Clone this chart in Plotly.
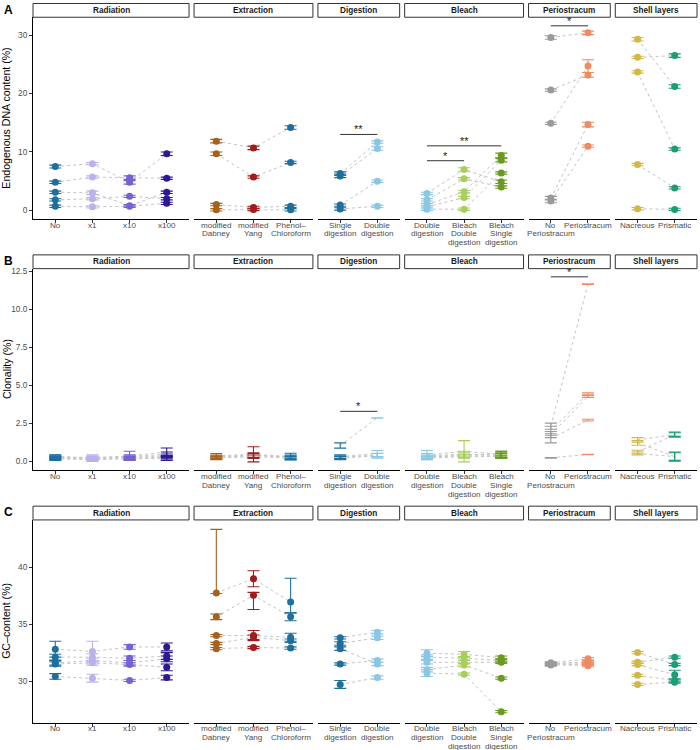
import plotly.graph_objects as go

W, H = 700, 750

# facet names and categories
facet_names = ["Radiation", "Extraction", "Digestion", "Bleach", "Periostracum", "Shell layers"]

radiation_cats = ["No", "x1", "x10", "x100"]
extraction_cats = ["modified Dabney", "modified Yang", "Phenol-Chloroform"]
digestion_cats = ["Single digestion", "Double digestion"]
bleach_cats = ["Double digestion", "Bleach Double digestion", "Bleach Single digestion"]
periostracum_cats = ["No Periostracum", "Periostracum"]
shell_cats = ["Nacreous", "Prismatic"]

radiation_labels = ["No", "x1", "x10", "x100"]
extraction_labels = ["modified<br>Dabney", "modified<br>Yang", "Phenol–<br>Chloroform"]
digestion_labels = ["Single<br>digestion", "Double<br>digestion"]
bleach_labels = ["Double<br>digestion", "Bleach<br>Double<br>digestion", "Bleach<br>Single<br>digestion"]
periostracum_labels = ["No<br>Periostracum", "Periostracum"]
shell_labels = ["Nacreous", "Prismatic"]

radiation_colors = ["#1f6f9e", "#b9b2ec", "#7563d3", "#2b1a92"]
extraction_colors = ["#a6611a", "#a11c1c", "#1f6f9e"]
digestion_colors = ["#1f6f9e", "#8ac6e6"]
bleach_colors = ["#8ac6e6", "#a8ce5c", "#6a9a1f"]
periostracum_colors = ["#9a9a9a", "#ef8a62"]
shell_colors = ["#d2b845", "#1b9e77"]

# A: endogenous DNA content (%), one row per shell, one value per category
endo_rad = [[7.5, 8.0, 4.8, 9.7], [4.8, 5.7, 5.6, 5.5], [3.1, 3.0, 0.8, 3.1], [1.8, 2.0, 2.4, 2.0], [0.7, 0.6, 0.7, 1.2]]
endo_rad_se = [[0.25, 0.2, 0.3, 0.3], [0.2, 0.2, 0.3, 0.2], [0.2, 0.3, 0.2, 0.2], [0.2, 0.2, 0.2, 0.2], [0.2, 0.2, 0.2, 0.2]]
endo_ext = [[11.85, 10.7, 14.2], [9.7, 5.7, 8.2], [1.0, 0.5, 0.7], [0.1, 0.15, 0.1]]
endo_ext_se = [[0.3, 0.3, 0.3], [0.3, 0.2, 0.2], [0.2, 0.2, 0.2], [0.2, 0.2, 0.2]]
endo_dig = [[6.3, 11.7], [5.9, 10.6], [0.9, 5.0], [0.25, 0.7]]
endo_dig_se = [[0.3, 0.2], [0.3, 0.3], [0.2, 0.2], [0.2, 0.2]]
endo_ble = [[2.9, 7.0, 4.9], [1.8, 5.4, 4.0], [1.0, 3.2, 9.4], [0.6, 2.2, 8.6], [0.2, 0.2, 6.4]]
endo_ble_se = [[0.2, 0.3, 0.3], [0.2, 0.2, 0.2], [0.2, 0.2, 0.4], [0.2, 0.2, 0.3], [0.2, 0.2, 0.2]]
endo_per = [[29.6, 30.4], [20.6, 23.2], [14.9, 24.7], [2.1, 14.7], [1.6, 11.0]]
endo_per_se = [[0.3, 0.3], [0.2, 0.4], [0.2, 1.1], [0.3, 0.4], [0.3, 0.2]]
endo_she = [[29.3, 21.2], [26.2, 26.5], [23.7, 10.5], [7.85, 3.85], [0.28, 0.17]]
endo_she_se = [[0.3, 0.3], [0.2, 0.3], [0.2, 0.2], [0.2, 0.2], [0.2, 0.2]]
endo_sig = [("Digestion", 0, 1, 13.0, "**"), ("Bleach", 0, 2, 11.05, "**"),
            ("Bleach", 0, 1, 8.5, "*"), ("Periostracum", 0, 1, 31.6, "*")]

# B: clonality (%)
clon_rad = [[0.3, 0.2, 0.35, 0.6], [0.25, 0.25, 0.3, 0.45], [0.2, 0.15, 0.25, 0.35], [0.15, 0.1, 0.15, 0.2], [0.3, 0.2, 0.2, 0.25]]
clon_rad_se = [[0.12, 0.22, 0.3, 0.27], [0.1, 0.1, 0.12, 0.15], [0.1, 0.1, 0.1, 0.12], [0.1, 0.08, 0.1, 0.15], [0.1, 0.1, 0.1, 0.1]]
clon_ext = [[0.35, 0.45, 0.3], [0.3, 0.4, 0.25], [0.2, 0.3, 0.2], [0.25, 0.35, 0.3]]
clon_ext_se = [[0.15, 0.5, 0.22], [0.1, 0.15, 0.1], [0.1, 0.1, 0.1], [0.1, 0.15, 0.1]]
clon_dig = [[1.03, 2.84], [0.3, 0.5], [0.2, 0.35], [0.25, 0.4]]
clon_dig_se = [[0.17, 0.02], [0.12, 0.2], [0.1, 0.15], [0.1, 0.12]]
clon_ble = [[0.4, 0.65, 0.45], [0.35, 0.45, 0.4], [0.3, 0.35, 0.35], [0.2, 0.3, 0.3], [0.25, 0.4, 0.5]]
clon_ble_se = [[0.3, 0.7, 0.2], [0.15, 0.2, 0.15], [0.1, 0.1, 0.15], [0.1, 0.1, 0.1], [0.1, 0.15, 0.15]]
clon_per = [[2.3, 11.65], [2.0, 4.45], [1.75, 4.25], [1.5, 2.7], [0.22, 0.44]]
clon_per_se = [[0.2, 0.02], [0.3, 0.05], [0.2, 0.06], [0.3, 0.06], [0.02, 0.01]]
clon_she = [[1.4, 1.75], [1.2, 0.3], [0.6, 1.75], [0.5, 0.3]]
clon_she_se = [[0.15, 0.17], [0.15, 0.3], [0.12, 0.12], [0.1, 0.25]]
clon_sig = [("Digestion", 0, 1, 3.28, "*"), ("Periostracum", 0, 1, 12.13, "*")]

# C: GC-content (%)
gc_rad = [[32.8, 32.6, 33.0, 33.0], [32.1, 32.1, 32.0, 32.2], [31.6, 31.8, 31.6, 31.95], [31.5, 31.6, 31.45, 31.2], [30.4, 30.25, 30.05, 30.3]]
gc_rad_se = [[0.7, 0.9, 0.2, 0.35], [0.25, 0.3, 0.2, 0.3], [0.2, 0.2, 0.2, 0.25], [0.2, 0.2, 0.15, 0.3], [0.25, 0.35, 0.1, 0.2]]
gc_ext = [[37.75, 39.0, 36.95], [35.65, 37.55, 35.65], [34.0, 34.0, 33.85], [33.3, 33.85, 33.55], [32.85, 32.95, 32.9]]
gc_ext_se = [[5.6, 0.7, 2.1], [0.25, 0.25, 0.35], [0.1, 0.45, 0.35], [0.1, 0.2, 0.15], [0.1, 0.1, 0.1]]
gc_ext_se_lo = [[0.05, 0.7, 0.95], [0.25, 1.25, 0.35], [0.1, 0.45, 0.35], [0.1, 0.2, 0.15], [0.1, 0.1, 0.1]]
gc_dig = [[33.8, 34.3], [33.3, 33.8], [32.85, 31.5], [31.5, 31.8], [29.7, 30.3]]
gc_dig_se = [[0.1, 0.15], [0.15, 0.15], [0.15, 0.15], [0.1, 0.15], [0.35, 0.15]]
gc_ble = [[32.45, 32.35, 32.05], [32.1, 32.0, 31.8], [31.65, 31.65, 31.65], [31.0, 31.4, 30.25], [30.7, 30.6, 27.3]]
gc_ble_se = [[0.3, 0.25, 0.15], [0.2, 0.15, 0.15], [0.15, 0.15, 0.1], [0.2, 0.15, 0.1], [0.3, 0.1, 0.1]]
gc_per = [[31.6, 31.95], [31.5, 31.7], [31.45, 31.35], [31.55, 31.6], [31.4, 31.5]]
gc_per_se = [[0.1, 0.1], [0.1, 0.1], [0.1, 0.1], [0.1, 0.1], [0.1, 0.1]]
gc_she = [[32.5, 31.45], [31.65, 32.1], [31.45, 30.55], [30.5, 30.05], [29.7, 29.9]]
gc_she_se = [[0.1, 0.1], [0.1, 0.1], [0.1, 0.4], [0.1, 0.15], [0.1, 0.1]]

facet_cats = [radiation_cats, extraction_cats, digestion_cats, bleach_cats, periostracum_cats, shell_cats]
facet_labels = [radiation_labels, extraction_labels, digestion_labels, bleach_labels, periostracum_labels, shell_labels]
facet_colors = [radiation_colors, extraction_colors, digestion_colors, bleach_colors, periostracum_colors, shell_colors]

rows = [
    dict(letter="A", title="Endogenous DNA content (%)", yrange=[-1.5, 33.07], ticks=[0, 10, 20, 30],
         ticktext=["0", "10", "20", "30"], points=True, sig=endo_sig,
         vals=[endo_rad, endo_ext, endo_dig, endo_ble, endo_per, endo_she],
         se=[endo_rad_se, endo_ext_se, endo_dig_se, endo_ble_se, endo_per_se, endo_she_se],
         se_lo=[None] * 6),
    dict(letter="B", title="Clonality (%)", yrange=[-0.61, 12.67], ticks=[0, 2.5, 5, 7.5, 10, 12.5],
         ticktext=["0.0", "2.5", "5.0", "7.5", "10.0", "12.5"], points=False, sig=clon_sig,
         vals=[clon_rad, clon_ext, clon_dig, clon_ble, clon_per, clon_she],
         se=[clon_rad_se, clon_ext_se, clon_dig_se, clon_ble_se, clon_per_se, clon_she_se],
         se_lo=[None] * 6),
    dict(letter="C", title="GC–content (%)", yrange=[26.32, 44.18], ticks=[30, 35, 40],
         ticktext=["30", "35", "40"], points=True, sig=[],
         vals=[gc_rad, gc_ext, gc_dig, gc_ble, gc_per, gc_she],
         se=[gc_rad_se, gc_ext_se, gc_dig_se, gc_ble_se, gc_per_se, gc_she_se],
         se_lo=[None, gc_ext_se_lo, None, None, None, None]),
]

# panel geometry (pixels)
left, right, gap = 33, 697, 5
units = [len(c) + 0.2 for c in facet_cats]
u = (right - left - gap * (len(units) - 1)) / sum(units)
x_dom = []
xp = left
for w in units:
    x_dom.append([xp / W, (xp + w * u) / W])
    xp += w * u + gap

row_tops = [14.3, 266.7, 519.0]
row_bottoms = [217.0, 469.3, 722.7]
strip_h = 13.8
label_first = 6.0   # first x-label line centre below the axis
label_step = 8.9    # spacing between x-label lines

FONT = "Liberation Sans, Arial, Helvetica, sans-serif"
TICKCOL = "#4d4d4d"

fig = go.Figure()
layout = {}
shapes = []
annotations = []
point_traces = []

for r, row in enumerate(rows):
    ydom = [1 - row_bottoms[r] / H, 1 - row_tops[r] / H]
    for c in range(6):
        idx = r * 6 + c + 1
        sfx = "" if idx == 1 else str(idx)
        cats = facet_cats[c]
        vals = row["vals"][c]
        se = row["se"][c]
        se_lo = row["se_lo"][c] if row["se_lo"][c] is not None else se

        # dashed lines joining the same shell across treatments
        for s in vals:
            fig.add_trace(go.Scatter(x=cats, y=s, mode="lines", xaxis="x" + sfx, yaxis="y" + sfx,
                                     line=dict(color="#c4c4c4", width=1, dash="3px,3px"),
                                     showlegend=False, hoverinfo="skip"))
        # points with error bars, one trace per category
        for k, cat in enumerate(cats):
            col = facet_colors[c][k]
            point_traces.append(go.Scatter(
                x=[cat] * len(vals), y=[s[k] for s in vals], mode="markers",
                xaxis="x" + sfx, yaxis="y" + sfx, showlegend=False,
                marker=dict(color=col, size=7 if row["points"] else 2,
                            opacity=1 if row["points"] else 0),
                error_y=dict(type="data", array=[e[k] for e in se], arrayminus=[e[k] for e in se_lo],
                             color=col, thickness=1.1, width=6, visible=True)))

        layout["xaxis" + sfx] = dict(
            domain=x_dom[c], anchor="y" + sfx, type="category", categoryorder="array",
            categoryarray=cats, range=[-0.6, len(cats) - 0.4], tickmode="array",
            tickvals=cats, showticklabels=False, ticks="outside", ticklen=3,
            tickwidth=1, tickcolor="#333333", showline=True, linecolor="#000000",
            linewidth=1, showgrid=False, zeroline=False)
        ya = dict(domain=ydom, anchor="x" + sfx, range=row["yrange"], showgrid=False, zeroline=False)
        if c == 0:
            ya.update(showline=True, linecolor="#000000", linewidth=1, ticks="outside", ticklen=3,
                      tickwidth=1, tickcolor="#333333", tickmode="array", tickvals=row["ticks"],
                      ticktext=row["ticktext"], tickfont=dict(size=8.3, color=TICKCOL, family=FONT))
        else:
            ya.update(showline=False, showticklabels=False, ticks="")
        layout["yaxis" + sfx] = ya

        # x tick labels, one text per line for tight ggplot-like spacing
        for k, lab in enumerate(facet_labels[c]):
            for j, part in enumerate(lab.split("<br>")):
                annotations.append(dict(xref="x" + sfx, yref="paper", x=k,
                                        y=1 - (row_bottoms[r] + label_first + j * label_step) / H,
                                        text=part, showarrow=False, xanchor="center", yanchor="middle",
                                        borderpad=0, font=dict(size=8.1, color=TICKCOL, family=FONT)))

        # facet strip
        shapes.append(dict(type="rect", xref="paper", yref="paper",
                           x0=x_dom[c][0], x1=x_dom[c][1],
                           y0=1 - row_tops[r] / H, y1=1 - (row_tops[r] - strip_h) / H,
                           fillcolor="white", line=dict(color="#333333", width=1)))
        annotations.append(dict(xref="paper", yref="paper", x=(x_dom[c][0] + x_dom[c][1]) / 2,
                                y=1 - (row_tops[r] - strip_h / 2) / H, text="<b>%s</b>" % facet_names[c],
                                showarrow=False, xanchor="center", yanchor="middle",
                                font=dict(size=8.2, color="#1a1a1a", family=FONT)))

        # significance brackets
        for fname, i0, i1, yv, txt in row["sig"]:
            if fname != facet_names[c]:
                continue
            shapes.append(dict(type="line", xref="x" + sfx, yref="y" + sfx, x0=i0, x1=i1, y0=yv, y1=yv,
                               line=dict(color="#333333", width=1)))
            annotations.append(dict(xref="x" + sfx, yref="y" + sfx, x=(i0 + i1) / 2, y=yv, text=txt,
                                    showarrow=False, yanchor="bottom", yshift=-3,
                                    font=dict(size=11, color="#1a1a1a", family=FONT)))

    # y title and panel letter
    annotations.append(dict(xref="paper", yref="paper", x=6.5 / W,
                            y=1 - (row_tops[r] + row_bottoms[r]) / 2 / H, text=row["title"],
                            textangle=-90, showarrow=False, xanchor="center", yanchor="middle",
                            font=dict(size=10.6, color="#000000", family=FONT)))
    annotations.append(dict(xref="paper", yref="paper", x=1.5 / W, y=1 - (row_tops[r] - 7.5) / H,
                            text="<b>%s</b>" % row["letter"], showarrow=False, xanchor="left",
                            yanchor="middle", font=dict(size=12, color="#000000", family=FONT)))

for t in point_traces:
    fig.add_trace(t)

fig.update_layout(width=W, height=H, margin=dict(l=0, r=0, t=0, b=0),
                  plot_bgcolor="white", paper_bgcolor="white",
                  font=dict(family=FONT), showlegend=False,
                  shapes=shapes, annotations=annotations, **layout)

# the page body has a default margin; drop it so the figure sits at the window corner
fig.write_html("out.html", config={"displayModeBar": False},
               post_script="document.body.style.margin='0px';")
